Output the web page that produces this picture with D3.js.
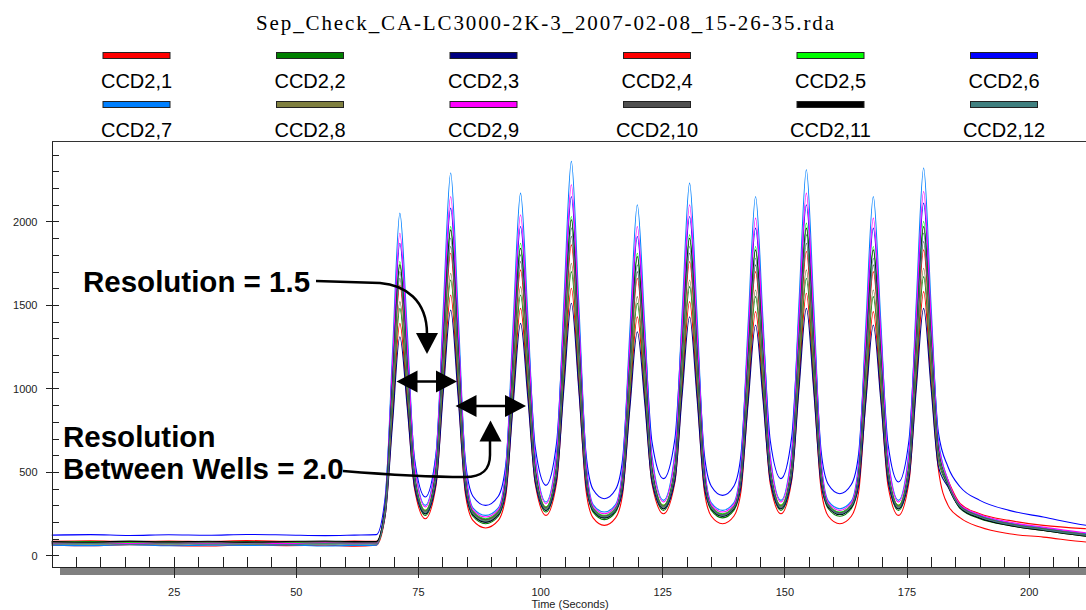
<!DOCTYPE html>
<html>
<head>
<meta charset="utf-8">
<script src="https://cdn.jsdelivr.net/npm/d3@7"></script>
<style>
body { margin: 0; background: #fff; }
svg { display: block; font-family: "Liberation Sans", Arial, sans-serif; }
.axis text { font-size: 11px; fill: #222; }
.axis line, .axis path { stroke: #222; shape-rendering: crispEdges; }
</style>
</head>
<body>
<svg id="chart" width="1086" height="610"></svg>
<script>
// chart data (seconds / counts)
var chartTitle = 'Sep_Check_CA-LC3000-2K-3_2007-02-08_15-26-35.rda';
var channels = ['CCD2,1', 'CCD2,2', 'CCD2,3', 'CCD2,4', 'CCD2,5', 'CCD2,6',
                'CCD2,7', 'CCD2,8', 'CCD2,9', 'CCD2,10', 'CCD2,11', 'CCD2,12'];
var colors = ['#ff0000', '#008000', '#000080', '#ff0000', '#00ff00', '#0000ff',
              '#0080ff', '#808040', '#ff00ff', '#505050', '#000000', '#408080'];
var xMajor = [25, 50, 75, 100, 125, 150, 175, 200];
var yMajor = [0, 500, 1000, 1500, 2000];

var times = [0, 8, 16, 24, 32, 40, 48, 56, 62, 66.5,
	68.3, 69.8, 71.3, 72.8, 74.3, 76.5,
	78.7, 80.2, 81.7, 83.2, 84.7, 86.25, 88.85, 91.45,
	93.0, 94.5, 96.0, 97.5, 99.0, 101.2,
	103.4, 104.9, 106.4, 107.9, 109.4, 110.85, 113.15, 115.45,
	116.9, 118.4, 119.9, 121.4, 122.9, 125.25,
	127.6, 129.1, 130.6, 132.1, 133.6, 135.05, 137.35, 139.65,
	141.1, 142.6, 144.1, 145.6, 147.1, 149.3,
	151.5, 153.0, 154.5, 156.0, 157.5, 159.0, 161.35, 163.7,
	165.2, 166.7, 168.2, 169.7, 171.2, 173.35,
	175.5, 177.0, 178.5, 180.0, 181.5, 183.5, 186, 190, 196, 203, 212, 220];

var ccd2_1 = [62, 58, 64, 60, 57, 63, 59, 61, 56, 62,
	240, 830, 1390, 920, 400, 220,
	420, 1020, 1560, 1000, 370, 210, 165, 210,
	360, 950, 1480, 980, 430, 240,
	440, 1060, 1600, 1030, 390, 225, 180, 225,
	370, 930, 1430, 960, 430, 250,
	440, 1010, 1520, 990, 390, 235, 190, 235,
	380, 950, 1460, 980, 430, 250,
	450, 1040, 1570, 1020, 400, 235, 190, 235,
	380, 950, 1460, 970, 420, 240,
	440, 1040, 1580, 1050, 520, 300, 225, 170, 130, 110, 80, 70];
var ccd2_2 = [72, 75, 70, 74, 71, 76, 72, 69, 73, 72,
	260, 890, 1480, 980, 430, 240,
	450, 1090, 1650, 1070, 410, 235, 190, 235,
	400, 1010, 1560, 1040, 460, 260,
	480, 1120, 1700, 1110, 440, 260, 215, 260,
	410, 990, 1510, 1010, 460, 270,
	470, 1070, 1610, 1060, 430, 270, 225, 270,
	420, 1020, 1550, 1040, 460, 270,
	480, 1100, 1660, 1090, 450, 280, 235, 280,
	430, 1020, 1550, 1040, 460, 270,
	480, 1110, 1670, 1120, 575, 420, 280, 220, 180, 150, 115, 100];
var ccd2_3 = [78, 81, 76, 80, 77, 82, 78, 75, 79, 78,
	240, 790, 1310, 890, 410, 250,
	430, 980, 1470, 960, 390, 245, 200, 245,
	380, 910, 1390, 940, 440, 270,
	460, 1010, 1510, 1000, 420, 270, 225, 270,
	390, 890, 1340, 920, 440, 280,
	450, 970, 1430, 950, 410, 280, 235, 280,
	410, 920, 1380, 940, 450, 280,
	460, 1000, 1480, 990, 430, 290, 245, 290,
	420, 930, 1380, 940, 450, 280,
	460, 1000, 1480, 1010, 535, 410, 285, 225, 185, 155, 120, 105];
var ccd2_4 = [85, 88, 83, 87, 84, 89, 85, 82, 86, 85,
	280, 980, 1620, 1080, 470, 270,
	500, 1190, 1810, 1170, 450, 260, 215, 260,
	440, 1110, 1710, 1140, 500, 290,
	530, 1230, 1860, 1210, 480, 280, 235, 280,
	450, 1090, 1660, 1120, 500, 300,
	520, 1180, 1760, 1150, 470, 290, 245, 290,
	460, 1120, 1700, 1140, 510, 300,
	530, 1210, 1820, 1190, 490, 300, 255, 300,
	470, 1120, 1700, 1140, 510, 300,
	530, 1220, 1830, 1220, 605, 450, 310, 250, 210, 180, 160, 150];
var ccd2_5 = [80, 83, 78, 82, 79, 81, 77, 83, 80, 81,
	300, 1050, 1760, 1160, 490, 270,
	530, 1290, 1970, 1270, 480, 265, 220, 265,
	470, 1210, 1870, 1240, 530, 290,
	550, 1330, 2030, 1310, 510, 285, 240, 285,
	480, 1180, 1810, 1210, 530, 300,
	540, 1270, 1920, 1250, 500, 295, 250, 295,
	490, 1210, 1850, 1230, 530, 300,
	550, 1310, 1990, 1300, 520, 305, 260, 305,
	500, 1210, 1850, 1230, 530, 300,
	560, 1320, 2000, 1320, 640, 440, 300, 240, 195, 165, 130, 115];
var ccd2_6 = [122, 125, 120, 124, 121, 126, 123, 119, 122, 125,
	350, 1140, 1870, 1260, 580, 350,
	610, 1390, 2080, 1370, 570, 355, 300, 355,
	550, 1300, 1970, 1350, 650, 420,
	680, 1460, 2150, 1430, 610, 395, 340, 395,
	580, 1280, 1910, 1330, 680, 460,
	700, 1400, 2030, 1360, 610, 415, 360, 415,
	600, 1320, 1960, 1360, 690, 460,
	710, 1440, 2100, 1410, 630, 425, 370, 425,
	610, 1320, 1960, 1350, 670, 440,
	690, 1440, 2110, 1430, 740, 530, 410, 330, 270, 230, 180, 165];
var ccd2_7 = [62, 59, 64, 58, 62, 60, 63, 57, 60, 62,
	320, 1220, 2050, 1350, 560, 300,
	600, 1490, 2290, 1470, 550, 285, 240, 285,
	530, 1400, 2170, 1430, 600, 320,
	630, 1540, 2360, 1520, 580, 305, 260, 305,
	540, 1360, 2100, 1390, 600, 330,
	620, 1470, 2230, 1450, 560, 315, 270, 315,
	550, 1400, 2150, 1420, 600, 330,
	630, 1520, 2310, 1500, 580, 325, 280, 325,
	560, 1400, 2150, 1420, 600, 330,
	630, 1520, 2320, 1510, 700, 450, 300, 240, 195, 165, 130, 115];
var ccd2_8 = [70, 67, 72, 68, 71, 66, 70, 73, 69, 70,
	260, 910, 1520, 1020, 450, 260,
	470, 1120, 1690, 1100, 430, 255, 210, 255,
	420, 1050, 1610, 1080, 480, 280,
	500, 1160, 1750, 1140, 460, 280, 235, 280,
	430, 1020, 1550, 1050, 480, 290,
	490, 1110, 1650, 1090, 460, 290, 245, 290,
	450, 1050, 1590, 1070, 490, 290,
	500, 1140, 1710, 1130, 470, 300, 255, 300,
	460, 1060, 1590, 1070, 490, 290,
	500, 1150, 1720, 1150, 585, 430, 295, 235, 190, 160, 125, 110];
var ccd2_9 = [74, 77, 72, 76, 73, 75, 71, 76, 74, 75,
	310, 1150, 1930, 1270, 540, 290,
	570, 1410, 2150, 1380, 520, 275, 230, 275,
	500, 1320, 2040, 1350, 570, 310,
	600, 1460, 2220, 1430, 550, 295, 250, 295,
	510, 1280, 1970, 1310, 570, 320,
	590, 1390, 2100, 1360, 540, 305, 260, 305,
	520, 1320, 2020, 1340, 580, 320,
	600, 1430, 2170, 1410, 560, 315, 270, 315,
	530, 1320, 2020, 1340, 580, 320,
	600, 1440, 2180, 1430, 675, 450, 305, 245, 200, 170, 135, 120];
var ccd2_10 = [80, 77, 82, 78, 81, 76, 80, 83, 79, 80,
	290, 1000, 1660, 1100, 470, 265,
	500, 1220, 1850, 1200, 460, 260, 215, 260,
	450, 1140, 1760, 1170, 510, 285,
	530, 1260, 1910, 1240, 490, 280, 235, 280,
	450, 1110, 1700, 1140, 510, 295,
	520, 1200, 1810, 1180, 480, 290, 245, 290,
	470, 1140, 1740, 1160, 510, 295,
	530, 1240, 1870, 1220, 500, 300, 255, 300,
	480, 1150, 1740, 1160, 510, 295,
	530, 1250, 1880, 1250, 615, 430, 295, 235, 190, 160, 125, 110];
var ccd2_11 = [84, 81, 86, 82, 85, 80, 84, 87, 83, 84,
	300, 1040, 1740, 1140, 470, 250,
	510, 1270, 1950, 1250, 460, 245, 200, 245,
	450, 1180, 1840, 1210, 510, 270,
	530, 1310, 2010, 1300, 490, 270, 225, 270,
	460, 1160, 1790, 1190, 510, 280,
	520, 1250, 1900, 1230, 490, 280, 235, 280,
	470, 1190, 1830, 1210, 510, 280,
	530, 1290, 1960, 1270, 500, 290, 245, 290,
	480, 1200, 1830, 1210, 510, 280,
	530, 1290, 1970, 1300, 635, 420, 285, 225, 180, 150, 115, 100];
var ccd2_12 = [68, 71, 66, 70, 67, 69, 65, 71, 68, 69,
	280, 1010, 1700, 1120, 470, 255,
	500, 1240, 1900, 1220, 460, 250, 205, 250,
	440, 1160, 1800, 1190, 500, 275,
	530, 1290, 1960, 1270, 490, 275, 230, 275,
	460, 1140, 1740, 1160, 500, 285,
	520, 1220, 1850, 1210, 480, 285, 240, 285,
	470, 1160, 1780, 1180, 510, 285,
	530, 1270, 1920, 1250, 500, 295, 250, 295,
	480, 1170, 1780, 1180, 510, 285,
	530, 1270, 1930, 1280, 625, 425, 290, 230, 185, 155, 120, 105];

var series = [ccd2_1, ccd2_2, ccd2_3, ccd2_4, ccd2_5, ccd2_6,
              ccd2_7, ccd2_8, ccd2_9, ccd2_10, ccd2_11, ccd2_12];

var svg = d3.select('#chart');

var plotLeft = 51.5, plotTop = 141.5, plotBottom = 566.5, plotRight = 1086;
var x = d3.scaleLinear().domain([0, 220]).range([plotLeft, 1126.4]);
var y = d3.scaleLinear().domain([-63, 2482]).range([566, 141]);

// title
svg.append('text')
	.attr('x', 545).attr('y', 30)
	.attr('text-anchor', 'middle')
	.attr('textLength', 578)
	.attr('lengthAdjust', 'spacing')
	.style('font-family', '"Liberation Serif", "Times New Roman", serif')
	.style('font-size', '21px')
	.text(chartTitle);

// legend, 6 columns x 2 rows
var legend = svg.append('g').selectAll('g')
	.data(channels)
  .enter().append('g')
	.attr('transform', function(d, i) {
		return 'translate(' + (136.5 + (i % 6) * 173.5) + ',' + (52 + Math.floor(i / 6) * 49) + ')';
	});
legend.append('rect')
	.attr('x', -33.5).attr('y', 0.5)
	.attr('width', 67).attr('height', 6)
	.attr('fill', function(d, i) { return colors[i]; })
	.attr('stroke', '#222').attr('stroke-width', 1);
legend.append('text')
	.attr('y', 36)
	.attr('text-anchor', 'middle')
	.style('font-size', '20px')
	.text(function(d) { return d; });

// frame
svg.append('line')
	.attr('x1', plotLeft).attr('x2', plotRight)
	.attr('y1', plotTop).attr('y2', plotTop)
	.attr('stroke', '#333').style('shape-rendering', 'crispEdges');

// grey shadow band below the time axis
svg.append('rect')
	.attr('x', 60).attr('y', 567)
	.attr('width', plotRight - 60).attr('height', 8)
	.attr('fill', '#808080');

// traces
svg.append('clipPath').attr('id', 'plotclip')
  .append('rect')
	.attr('x', plotLeft).attr('y', plotTop)
	.attr('width', plotRight - plotLeft).attr('height', plotBottom - plotTop);

var line = d3.line()
	.x(function(d, i) { return x(times[i]); })
	.y(function(d) { return y(d); })
	.curve(d3.curveMonotoneX);

svg.append('g')
	.attr('clip-path', 'url(#plotclip)')
  .selectAll('path')
	.data(series)
  .enter().append('path')
	.attr('fill', 'none')
	.attr('stroke', function(d, i) { return colors[i]; })
	.attr('stroke-width', 1.1)
	.attr('d', line);

// axes
var yAxis = svg.append('g').attr('class', 'axis')
	.attr('transform', 'translate(' + plotLeft + ',0)')
	.call(d3.axisLeft(y).tickValues(yMajor).tickFormat(d3.format('d'))
		.tickSize(6).tickSizeOuter(0).tickPadding(8));

var yMinor = svg.append('g').attr('class', 'axis')
	.attr('transform', 'translate(' + plotLeft + ',0)')
	.call(d3.axisRight(y).tickValues(d3.range(0, 2500, 100)).tickSize(7).tickFormat(''));
yMinor.select('.domain').remove();

var xMinor = svg.append('g').attr('class', 'axis')
	.attr('transform', 'translate(0,' + plotBottom + ')')
	.call(d3.axisTop(x).tickValues(d3.range(5, 220, 5)).tickSize(10).tickFormat(''));
xMinor.select('.domain').remove();

var xAxis = svg.append('g').attr('class', 'axis')
	.attr('transform', 'translate(0,' + plotBottom + ')')
	.call(d3.axisBottom(x).tickValues(xMajor).tickSize(11).tickSizeOuter(0).tickPadding(11));

svg.append('text')
	.attr('x', 570).attr('y', 608)
	.attr('text-anchor', 'middle')
	.style('font-size', '11px').style('fill', '#222')
	.text('Time (Seconds)');

// annotations
var notes = svg.append('g').attr('fill', 'none').attr('stroke', '#000').attr('stroke-width', 2.5);

function label(txt, lx, ly) {
	svg.append('text')
		.attr('x', lx).attr('y', ly)
		.style('font-size', '29.5px').style('font-weight', 'bold')
		.text(txt);
}
function head(tipX, tipY, dx, dy) {
	// filled triangle, (dx,dy) points from the tip back along the shaft
	var px = -dy, py = dx;
	svg.append('path')
		.attr('d', 'M' + tipX + ',' + tipY +
			'L' + (tipX + dx * 21 + px * 11) + ',' + (tipY + dy * 21 + py * 11) +
			'L' + (tipX + dx * 21 - px * 11) + ',' + (tipY + dy * 21 - py * 11) + 'Z')
		.attr('fill', '#000');
}
function doubleArrow(x1, x2, ay) {
	notes.append('line').attr('x1', x1 + 15).attr('x2', x2 - 15).attr('y1', ay).attr('y2', ay);
	head(x1, ay, 1, 0);
	head(x2, ay, -1, 0);
}

label('Resolution = 1.5', 83, 292);
label('Resolution', 63, 447);
label('Between Wells = 2.0', 63, 479);

notes.append('path').attr('d', 'M316,281 L380,283 C405,285 427,300 427,334');
head(427, 354, 0, -1);

doubleArrow(396.5, 457, 381.5);
doubleArrow(455.5, 526, 406);

notes.append('path').attr('d', 'M343,471 C380,474 420,477 465,477 C482,477 490,470 490,455 L490,438');
head(490.5, 420.5, 0, 1);
</script>
</body>
</html>
